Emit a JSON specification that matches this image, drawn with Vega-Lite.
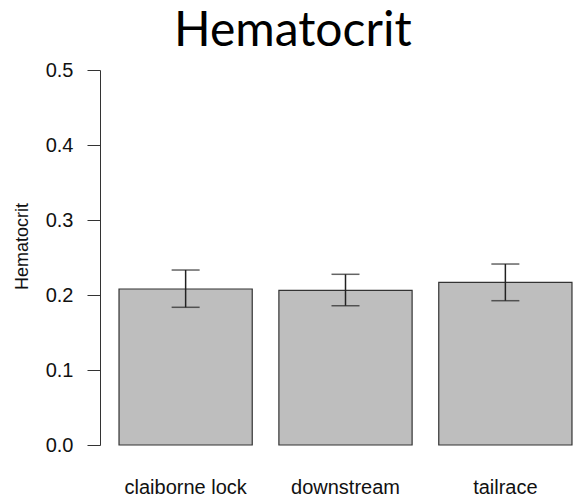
{
  "$schema": "https://vega.github.io/schema/vega-lite/v6.json",
  "autosize": "none",
  "padding": {"left": 100, "top": 70, "right": 0, "bottom": 53},
  "width": 491,
  "height": 375,
  "background": "white",
  "config": {"view": {"stroke": null}},
  "title": {
    "text": "Hematocrit",
    "font": "Lato",
    "fontSize": 48,
    "fontWeight": "normal",
    "color": "black",
    "anchor": "start",
    "frame": "group",
    "dx": 74,
    "offset": 4
  },
  "data": {
    "values": [
      {"site": "claiborne lock", "mean": 0.208, "lo": 0.1836, "hi": 0.2333},
      {"site": "downstream", "mean": 0.2063, "lo": 0.1857, "hi": 0.2276},
      {"site": "tailrace", "mean": 0.2169, "lo": 0.1924, "hi": 0.2413}
    ]
  },
  "encoding": {
    "x": {
      "field": "site",
      "type": "nominal",
      "sort": null,
      "scale": {"paddingInner": 0.1667, "paddingOuter": 0.119},
      "axis": {
        "title": null,
        "labelAngle": 0,
        "labelFont": "Liberation Sans",
        "labelFontSize": 20,
        "labelColor": "#111",
        "labelBaseline": "alphabetic",
        "labelPadding": 48,
        "ticks": false,
        "tickSize": 0,
        "domain": false,
        "grid": false
      }
    }
  },
  "layer": [
    {
      "mark": {"type": "bar", "color": "#bebebe", "stroke": "#333333", "strokeWidth": 1.2},
      "encoding": {
        "y": {
          "field": "mean",
          "type": "quantitative",
          "scale": {"domain": [0, 0.5], "nice": false},
          "axis": {
            "title": "Hematocrit",
            "titleFont": "Liberation Sans",
            "titleFontSize": 18,
            "titleFontWeight": "normal",
            "titleColor": "#111",
            "titleAngle": -90,
            "titleX": -73,
            "titleY": 176,
            "titleAlign": "center",
            "titleBaseline": "alphabetic",
            "values": [0, 0.1, 0.2, 0.3, 0.4, 0.5],
            "format": ".1f",
            "labelFont": "Liberation Sans",
            "labelFontSize": 20,
            "labelColor": "#111",
            "labelPadding": 14,
            "tickSize": 13,
            "tickColor": "#333",
            "domainColor": "#333",
            "grid": false
          }
        }
      }
    },
    {
      "mark": {"type": "rule", "color": "#222", "strokeWidth": 1.5},
      "encoding": {
        "y": {"field": "lo", "type": "quantitative"},
        "y2": {"field": "hi"}
      }
    },
    {
      "mark": {"type": "tick", "color": "#222", "thickness": 1.5, "size": 28},
      "encoding": {"y": {"field": "lo", "type": "quantitative"}}
    },
    {
      "mark": {"type": "tick", "color": "#222", "thickness": 1.5, "size": 28},
      "encoding": {"y": {"field": "hi", "type": "quantitative"}}
    }
  ]
}
